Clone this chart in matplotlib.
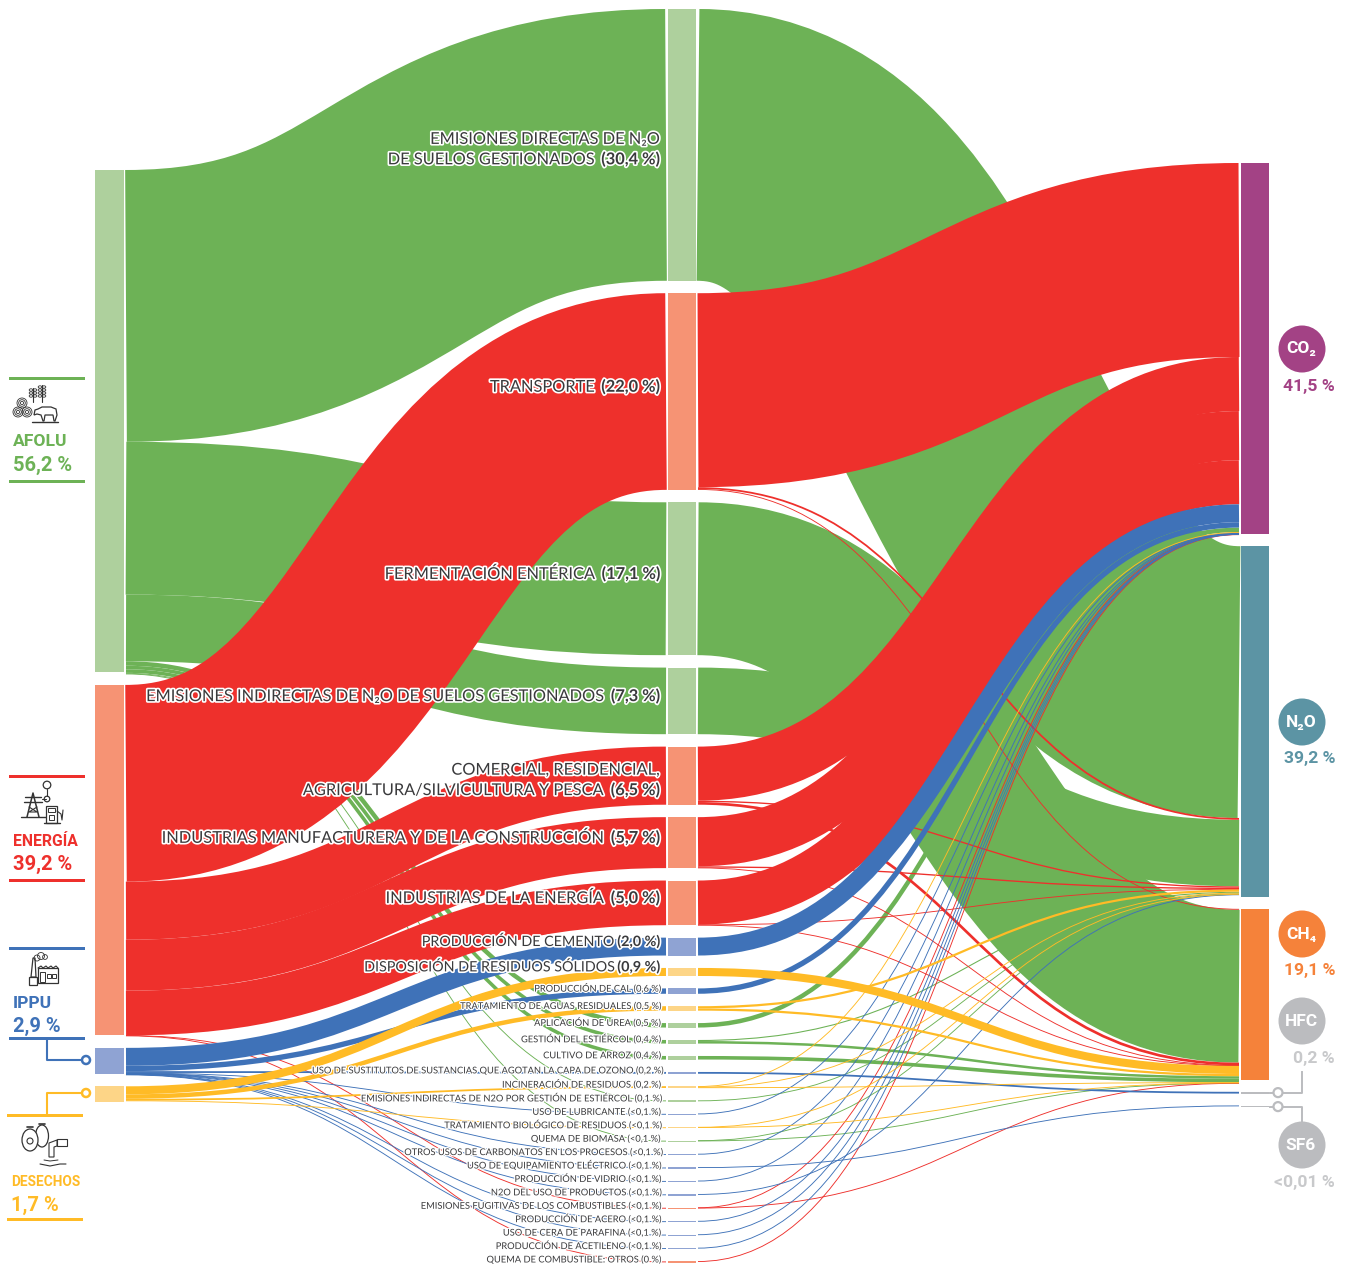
import matplotlib
matplotlib.use("Agg")
import matplotlib.pyplot as plt
from matplotlib.patches import PathPatch, Rectangle, Circle, Ellipse, Polygon
from matplotlib.path import Path
import matplotlib.patheffects as pe

W, H = 1353, 1267
DPI = 100
NARROW = ['Roboto', 'Open Sans', 'DejaVu Sans']
LABEL = ['Lato', 'Open Sans', 'DejaVu Sans']

# ---------- data (percent of emissions) ----------
sectors = ['AFOLU', 'ENERGÍA', 'IPPU', 'DESECHOS']
sector_values = [56.2, 39.2, 2.9, 1.7]
sector_pct = ['56,2 %', '39,2 %', '2,9 %', '1,7 %']
gases = ['CO₂', 'N₂O', 'CH₄', 'HFC', 'SF6']
gas_values = [41.5, 39.2, 19.1, 0.2, 0.01]
gas_pct = ['41,5 %', '39,2 %', '19,1 %', '0,2 %', '<0,01 %']

cat_names = [
    'EMISIONES DIRECTAS DE N₂O\nDE SUELOS GESTIONADOS', 'TRANSPORTE', 'FERMENTACIÓN ENTÉRICA',
    'EMISIONES INDIRECTAS DE N₂O DE SUELOS GESTIONADOS', 'COMERCIAL, RESIDENCIAL,\nAGRICULTURA/SILVICULTURA Y PESCA',
    'INDUSTRIAS MANUFACTURERA Y DE LA CONSTRUCCIÓN', 'INDUSTRIAS DE LA ENERGÍA',
    'PRODUCCIÓN DE CEMENTO', 'DISPOSICIÓN DE RESIDUOS SÓLIDOS',
    'PRODUCCIÓN DE CAL', 'TRATAMIENTO DE AGUAS RESIDUALES', 'APLICACIÓN DE UREA', 'GESTIÓN DEL ESTIÉRCOL',
    'CULTIVO DE ARROZ', 'USO DE SUSTITUTOS DE SUSTANCIAS QUE AGOTAN LA CAPA DE OZONO', 'INCINERACIÓN DE RESIDUOS',
    'EMISIONES INDIRECTAS DE N2O POR GESTIÓN DE ESTIÉRCOL', 'USO DE LUBRICANTE', 'TRATAMIENTO BIOLÓGICO DE RESIDUOS',
    'QUEMA DE BIOMASA', 'OTROS USOS DE CARBONATOS EN LOS PROCESOS', 'USO DE EQUIPAMIENTO ELÉCTRICO',
    'PRODUCCIÓN DE VIDRIO', 'N2O DEL USO DE PRODUCTOS', 'EMISIONES FUGITIVAS DE LOS COMBUSTIBLES',
    'PRODUCCIÓN DE ACERO', 'USO DE CERA DE PARAFINA', 'PRODUCCIÓN DE ACETILENO', 'QUEMA DE COMBUSTIBLE: OTROS']
cat_pct = ['(30,4 %)', '(22,0 %)', '(17,1 %)', '(7,3 %)', '(6,5 %)', '(5,7 %)', '(5,0 %)', '(2,0 %)', '(0,9 %)',
           '(0,6 %)', '(0,5 %)', '(0,5 %)', '(0,4 %)', '(0,4 %)', '(0,2 %)', '(0,2 %)', '(0,1 %)',
           '(<0,1 %)', '(<0,1 %)', '(<0,1 %)', '(<0,1 %)', '(<0,1 %)', '(<0,1 %)', '(<0,1 %)', '(<0,1 %)',
           '(<0,1 %)', '(<0,1 %)', '(<0,1 %)', '(0 %)']
cat_sector = [0, 1, 0, 0, 1, 1, 1, 2, 3, 2, 3, 0, 0, 0, 2, 3, 0, 2, 3, 0, 2, 2, 2, 2, 1, 2, 2, 2, 1]
# split of every category over the gases
to_co2 = [0, 21.70, 0, 0, 6.05, 5.50, 4.93, 2.00, 0, .60, 0, .50, 0, 0, 0, .08, 0, .03, 0, 0, .03, 0, .03, 0, .02, .03, .03, .03, .02]
to_n2o = [30.4, .20, 0, 7.45, .15, .15, .05, 0, 0, 0, .25, 0, .12, 0, 0, .06, .10, 0, .02, .02, 0, 0, 0, .03, 0, 0, 0, 0, 0]
to_ch4 = [0, .10, 17.10, 0, .30, .05, .02, 0, .90, 0, .25, 0, .28, .40, 0, .06, 0, 0, .02, .02, 0, 0, 0, 0, .02, 0, 0, 0, 0]
to_hfc = [0] * 14 + [.20] + [0] * 14
to_sf6 = [0] * 21 + [.02] + [0] * 7
gas_split = [to_co2, to_n2o, to_ch4, to_hfc, to_sf6]

link_colors = ['#6DB256', '#EE302C', '#3F72B8', '#FFBB26']
node_colors = ['#AED09D', '#F69374', '#8FA3D3', '#FDD587']
gas_colors = ['#A34285', '#5C94A4', '#F5823A', '#BBBCBF', '#BBBCBF']
text_colors = ['#6DB256', '#EE302C', '#3F72B8', '#FFBB26']
gas_text = ['#A34285', '#5C94A4', '#F5823A', '#C8C9CB', '#C8C9CB']

# ---------- layout ----------
SCALE = 8.94
left_top, mid_top, right_top = 170.0, 9.0, 163.0
Lx0, Lx1, Mx0, Mx1, Rx0, Rx1 = 95, 124, 668, 696, 1241, 1269

fig = plt.figure(figsize=(W / DPI, H / DPI), dpi=DPI)
ax = fig.add_axes([0, 0, 1, 1])
ax.set_xlim(0, W)
ax.set_ylim(H, 0)
ax.axis('off')


def stack(values, top, gap, minh=1.0):
    tops, y = [], top
    for v in values:
        tops.append(y)
        y += max(v * SCALE, minh) + gap
    return tops


cat_values = [sum(g[i] for g in gas_split) for i in range(len(cat_names))]
left_y = stack(sector_values, left_top, 12.5)
mid_y = stack(cat_values, mid_top, 12.42)
right_y = stack(gas_values, right_top, 12.2, minh=1.5)


def link(x0, y0, x1, y1, w, color, z):
    xm = (x0 + x1) / 2
    p = Path([(x0, y0), (xm, y0), (xm, y1), (x1, y1)], [Path.MOVETO, Path.CURVE4, Path.CURVE4, Path.CURVE4])
    ax.add_patch(PathPatch(p, fill=False, edgecolor=color, lw=max(w, 0.9) * 72 / DPI,
                           capstyle='butt', zorder=z))


# links sector -> category
cursor = list(left_y)
for order, s in enumerate(range(4)):
    for i, sec in enumerate(cat_sector):
        if sec != s:
            continue
        w = cat_values[i] * SCALE
        link(Lx1 + 2, cursor[s] + w / 2, Mx0 - 2, mid_y[i] + max(w, 1) / 2, w, link_colors[s], 2 + order)
        cursor[s] += w

# links category -> gas
rcur = list(right_y)
mcur = list(mid_y)
segs = []
for g in range(5):
    for i in range(len(cat_names)):
        v = gas_split[g][i]
        if v <= 0:
            continue
        w = v * SCALE
        segs.append((cat_sector[i], Mx1 + 2, mcur[i] + w / 2, Rx0 - 2, rcur[g] + w / 2, w))
        mcur[i] += w
        rcur[g] += w
for s in range(4):
    for seg in segs:
        if seg[0] == s:
            link(seg[1], seg[2], seg[3], seg[4], seg[5], link_colors[s], 2 + s)

# nodes
for s, v in enumerate(sector_values):
    ax.add_patch(Rectangle((Lx0, left_y[s]), Lx1 - Lx0, v * SCALE, fc=node_colors[s], ec='none', zorder=6))
for i, v in enumerate(cat_values):
    ax.add_patch(Rectangle((Mx0, mid_y[i]), Mx1 - Mx0, max(v * SCALE, 1.2), fc=node_colors[cat_sector[i]], ec='none', zorder=6))
for g, v in enumerate(gas_values):
    ax.add_patch(Rectangle((Rx0, right_y[g]), Rx1 - Rx0, max(v * SCALE, 1.6), fc=gas_colors[g], ec='none', zorder=6))

# category labels
renderer = fig.canvas.get_renderer()
DARK = '#3A3A3C'


def rtext(x, y, s, size, weight, outline):
    return ax.text(x, y, s, ha='right', va='baseline', fontsize=size, fontweight=weight, color=DARK,
                   family=LABEL, zorder=9,
                   path_effects=[pe.withStroke(linewidth=outline, foreground='white')])


for i, name in enumerate(cat_names):
    h = max(cat_values[i] * SCALE, 1)
    cy = mid_y[i] + h / 2
    big_label = i < 9
    size = 11.8 if i < 7 else (10.3 if big_label else 6.7)
    px = size * DPI / 72
    outline = 2.4 if big_label else 1.8
    lines = name.split('\n')
    if len(lines) == 2:
        ys = [cy - 10.2 + 3, cy + 10.2 + 3]
    else:
        ys = [cy - (6 if big_label else 3)]
    xr = 660
    for k, (ln_txt, yy) in enumerate(zip(lines, ys)):
        base = yy + 0.38 * px
        if k == len(lines) - 1:
            if big_label:
                t = rtext(xr, base, cat_pct[i], size, 'bold', outline)
                wd = t.get_window_extent(renderer).width
                rtext(xr - wd - px * .4, base, ln_txt, size, 'normal', outline)
            else:
                rtext(xr, base, ln_txt + ' ' + cat_pct[i], size, 'normal', outline)
        else:
            rtext(xr, base, ln_txt, size, 'normal', outline)


# left column
def hbar(x0, x1, y, c):
    ax.add_patch(Rectangle((x0, y - 1.5), x1 - x0, 3, fc=c, ec='none', zorder=8))


def big(x, y, s, c, size, ha='left', weight='bold'):
    ax.text(x, y, s, color=c, fontsize=size, fontweight=weight, family=NARROW, ha=ha, va='center', zorder=9)


hdr_pos = [(9, 85, 378, 481, 13, 441, 464), (9, 85, 776, 880, 13, 841, 863),
           (9, 85, 948, 1038, 13, 1002, 1025), (7, 83, 1115, 1219, 11, 1181, 1204)]
hdr_size = [12.6, 11.3, 12.6, 9.8]
for s, (a, b, t, bt, tx, y1, y2) in enumerate(hdr_pos):
    c = text_colors[s]
    hbar(a, b, t, c)
    hbar(a, b, bt, c)
    big(tx, y1 + 1, sectors[s], c, hdr_size[s])
    big(tx, y2 + 1, sector_pct[s], c, 14.5)

ax.plot([47, 47, 82], [1040, 1060, 1060], color=text_colors[2], lw=1.5, zorder=7, solid_capstyle='butt')
ax.add_patch(Circle((86, 1060), 4, fc='white', ec=text_colors[2], lw=1.8, zorder=8))
ax.plot([82, 47, 47], [1093, 1093, 1114], color=text_colors[3], lw=1.5, zorder=7, solid_capstyle='butt')
ax.add_patch(Circle((86, 1093), 4, fc='white', ec=text_colors[3], lw=1.8, zorder=8))

# right column
gas_pos = [(349, 385), (722, 758), (934, 970), (1021, 1058), (1145, 1181)]
for g, (cy, py) in enumerate(gas_pos):
    ax.add_patch(Circle((1302, cy), 23.5, fc=gas_colors[g], ec='none', zorder=8))
    ax.text(1301, cy, gases[g], color='white', fontsize=12.5, fontweight='bold', family=NARROW + ['DejaVu Sans'],
            ha='center', va='center', zorder=9)
    big(1335, py + 1, gas_pct[g], gas_text[g], 12.6, ha='right')

GR = '#BBBCBF'
y_hfc = right_y[3] + 0.8
y_sf6 = right_y[4] + 0.8
ax.plot([1270, 1274], [y_hfc, y_hfc], color=GR, lw=1.4, zorder=7)
ax.plot([1283, 1302, 1302], [y_hfc, y_hfc, 1072], color=GR, lw=1.4, zorder=7)
ax.add_patch(Circle((1278, y_hfc), 4.5, fc='white', ec=GR, lw=1.6, zorder=8))
ax.plot([1270, 1274], [y_sf6, y_sf6], color=GR, lw=1.4, zorder=7)
ax.plot([1283, 1302, 1302], [y_sf6, y_sf6, 1122], color=GR, lw=1.4, zorder=7)
ax.add_patch(Circle((1278, y_sf6), 4.5, fc='white', ec=GR, lw=1.6, zorder=8))

# ---------- pictograms ----------
INK = '#333333'


def ln(xs, ys, lw=.8):
    ax.plot(xs, ys, color=INK, lw=lw, zorder=9, solid_capstyle='round')


def ring(x, y, r, lw=.7):
    ax.add_patch(Circle((x, y), r, fc='none', ec=INK, lw=lw, zorder=9))


def box(x, y, w, h, lw=.8):
    ax.add_patch(Rectangle((x, y), w, h, fc='white', ec=INK, lw=lw, zorder=9))


# AFOLU: hay, wheat and cow
for cx, cy in [(22, 403), (18, 412), (27, 412)]:
    for r in (5, 3.3, 1.6):
        ring(cx, cy, r, .6)
for wx, top, bot in [(33, 388, 402), (42, 385, 402)]:
    ln([wx, wx], [top, bot])
    for yy in range(top + 2, bot - 3, 3):
        ax.add_patch(Ellipse((wx - 2, yy), 3.6, 2.4, fc='none', ec=INK, lw=.6, zorder=9))
        ax.add_patch(Ellipse((wx + 2, yy), 3.6, 2.4, fc='none', ec=INK, lw=.6, zorder=9))
ax.add_patch(Polygon([(38, 409), (42, 407), (51, 407), (56, 409), (57, 415), (55, 421), (54, 421), (53, 415), (45, 415),
                      (44, 421), (43, 421), (41, 415), (37, 414), (34, 415), (35, 410)], fc='white', ec=INK, lw=.9, zorder=9))
ln([32, 58], [421.5, 421.5], 1)

# ENERGÍA: pylon, bulb, pump
ln([27, 33, 39], [817, 793, 817], 1.1)
ln([25, 41], [797, 797], 1)
ln([24, 42], [802, 802], 1)
ln([29, 37, 29, 37], [807, 812, 812, 807], .8)
ln([21, 46], [817, 817], 1)
ln([42, 46], [799, 799], .8)
ring(47, 785, 3.8, .9)
ring(47, 799, 2.8, .9)
ln([47, 47], [789, 796], .8)
box(46, 806, 11, 17, .9)
box(48, 808, 7, 4, .7)
box(49, 815, 5, 5, .7)
ln([44, 60], [823, 823], 1)
ln([57, 61, 62, 63], [811, 814, 820, 810], .8)

# IPPU: factory
box(29, 977, 8, 8, .9)
ax.add_patch(Polygon([(31, 977), (33, 958), (35, 958), (36, 977)], fc='white', ec=INK, lw=.9, zorder=9))
box(38, 968, 20, 15, .9)
box(40, 972, 5, 10, .7)
box(47, 974, 4, 4, .7)
box(52, 974, 4, 4, .7)
ln([38, 41, 43, 46, 48, 51, 53, 56, 58], [968, 966, 968, 966, 968, 966, 968, 966, 968], .8)
for cx, cy, r in [(37, 958, 3), (41, 956, 3.5), (45, 957, 2.4)]:
    ax.add_patch(Circle((cx, cy), r, fc='none', ec=INK, lw=.6, zorder=9))

# DESECHOS: bags and pipe
ax.add_patch(Ellipse((42, 1136), 13, 22, fc='white', ec=INK, lw=.9, zorder=9))
ax.add_patch(Ellipse((30, 1140), 16, 22, fc='white', ec=INK, lw=.9, zorder=9))
ln([27, 33], [1127, 1127], 1.2)
ln([39, 45], [1124, 1124], 1.2)
ring(30, 1141, 3, .8)
box(57, 1139, 10, 7, .8)
ax.add_patch(Polygon([(49, 1143), (57, 1140), (57, 1146), (54, 1147), (54, 1157), (49, 1157)], fc='white', ec=INK, lw=.8, zorder=9))
ln([40, 50, 60, 66], [1164, 1166, 1164, 1164], .8)
ln([44, 50, 58], [1160, 1161, 1160], .7)

fig.savefig('out.png', dpi=DPI, facecolor='white')
